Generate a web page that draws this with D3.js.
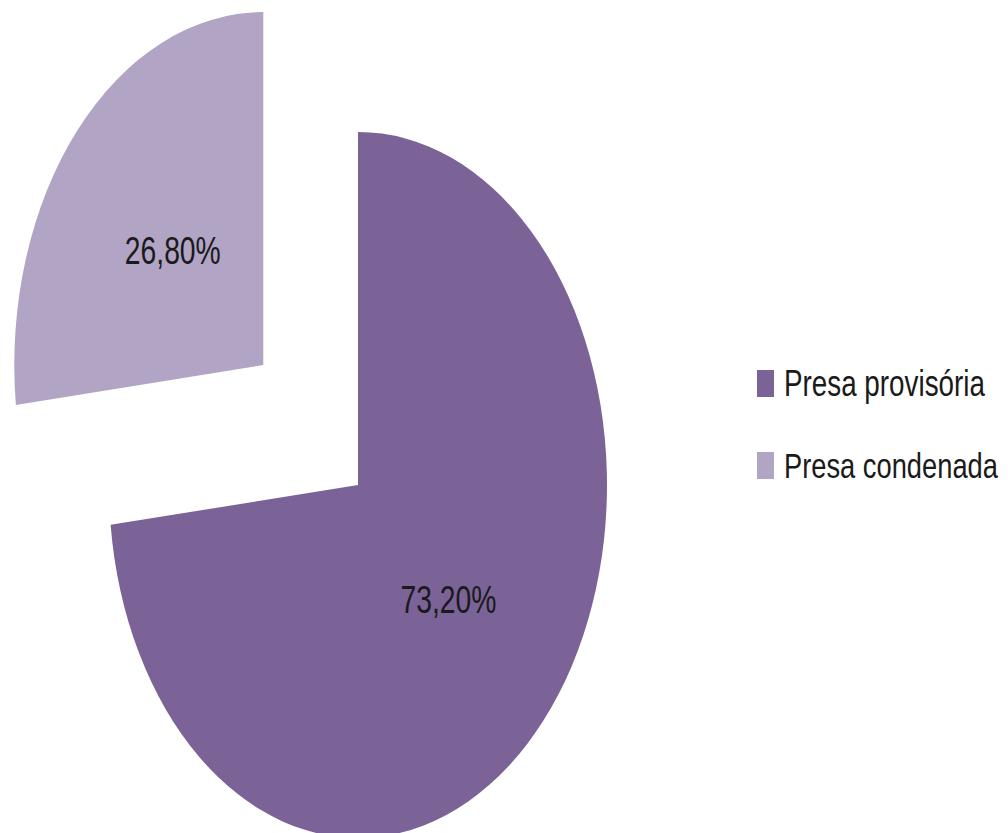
<!DOCTYPE html>
<html>
<head>
<meta charset="utf-8">
<script src="https://cdn.jsdelivr.net/npm/d3@7"></script>
<style>
  html, body { margin: 0; padding: 0; background: #fff; }
  svg { display: block; }
</style>
</head>
<body>
<svg id="chart" width="1008" height="833"></svg>
<script>
const categories = ["Presa provisória", "Presa condenada"];
const values = [73.2, 26.8];
const valueLabels = ["73,20%", "26,80%"];
const colors = ["#7B6397", "#B1A4C4"];
const explode = [0, 180];

const W = 1008, H = 833;
const svg = d3.select("#chart");
const R = 353;
const sx = 249 / 353;
const cx = 358, cy = 485;
const FONT = "Liberation Sans, Arial, sans-serif";

// draw a text squeezed horizontally to a target width
function squeezedText(parent, x, y, str, size, targetW, anchor) {
  const g = parent.append("g");
  const t = g.append("text")
    .attr("x", 0).attr("y", 0)
    .attr("font-family", FONT)
    .attr("font-size", size)
    .attr("fill", "#1a1a1a")
    .attr("text-anchor", anchor)
    .text(str);
  const w = t.node().getComputedTextLength();
  const k = targetW / w;
  g.attr("transform", `translate(${x},${y}) scale(${k},1)`);
  return g;
}

const pie = d3.pie().sort(null).value(d => d).startAngle(0).endAngle(2 * Math.PI);
const arcs = pie(values);
const arc = d3.arc().innerRadius(0).outerRadius(R);

arcs.forEach((a, i) => {
  const mid = (a.startAngle + a.endAngle) / 2;
  const ox = Math.sin(mid) * explode[i] * sx;
  const oy = -Math.cos(mid) * explode[i];
  const px = cx + ox, py = cy + oy;
  svg.append("path")
    .attr("d", arc(a))
    .attr("fill", colors[i])
    .attr("transform", `translate(${px},${py}) scale(${sx},1)`);
  const lr = 172;
  const lx = px + Math.sin(mid) * lr * sx;
  const ly = py - Math.cos(mid) * lr;
  squeezedText(svg, lx, ly + 13, valueLabels[i], 38, 96, "middle");
});

const legend = svg.append("g");
const legendX = 757, legendY0 = 370, legendStep = 82;
const textLens = [201, 214];
categories.forEach((c, i) => {
  const y = legendY0 + i * legendStep;
  legend.append("rect")
    .attr("x", legendX).attr("y", y)
    .attr("width", 17).attr("height", 27)
    .attr("fill", colors[i]);
  squeezedText(legend, legendX + 27, y + 26, c, 36, textLens[i], "start");
});
</script>
</body>
</html>
